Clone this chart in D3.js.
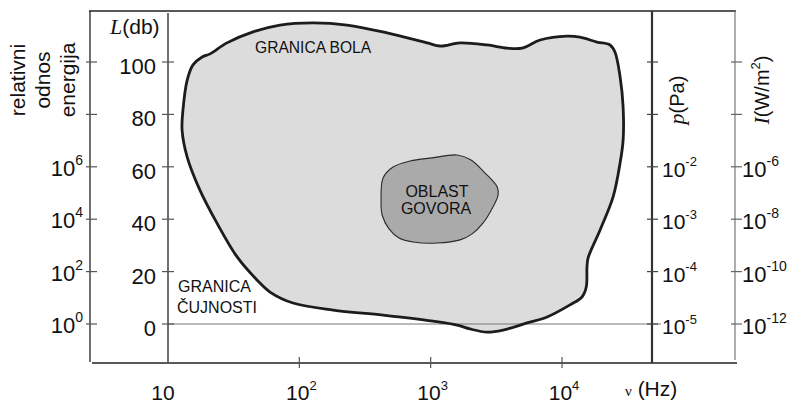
<!DOCTYPE html>
<html>
<head>
<meta charset="utf-8">
<script src="https://cdn.jsdelivr.net/npm/d3@7"></script>
<style>
body{margin:0;background:#fff}
svg{display:block;font-family:"Liberation Sans",Arial,sans-serif}
</style>
</head>
<body>
<svg width="792" height="403"></svg>
<script>
// granica cujnosti / granica bola (frekvencija Hz, nivo dB)
const boundaryFreq = [12.8, 13, 14, 15.5, 18.2, 20.9, 28.1, 44.4, 71.3, 127, 231, 466, 940, 1180, 1675, 2690, 3820, 4970, 6810, 10900, 13700, 18500, 23200, 25300, 27700, 29200, 29200, 27700, 24500, 19500, 15800, 15500, 15300, 14200, 11500, 7710, 5420, 3560, 2690, 1995, 1590, 1040, 434, 181, 89.6, 59.8, 47.6, 33.6, 23.6, 17.5, 14.0];
const boundaryLevel = [74, 81.7, 93.1, 98.9, 101.9, 103.1, 107.3, 111.5, 114.1, 114.9, 114.1, 111.1, 107.3, 106.1, 107.3, 106.5, 105.3, 105.3, 108.4, 109.9, 109.5, 107.6, 106.5, 103.8, 94.3, 82.8, 70.2, 61.5, 48.5, 35.9, 25.2, 21.8, 14.1, 10.3, 7.3, 2.7, 0.4, -2.3, -3.1, -1.9, -0.4, 1.1, 3.4, 5.3, 8.0, 12.2, 16.8, 25.6, 38.5, 51.1, 63.7];

// oblast govora
const speechFreq = [419, 434, 517, 697, 1026, 1590, 2030, 2550, 3210, 3260, 2980, 2500, 2070, 1675, 1120, 735, 574, 482, 427];
const speechLevel = [47.3, 55.7, 59.9, 62.2, 63.4, 64.5, 62.6, 58.0, 52.3, 49.2, 44.7, 38.5, 34.4, 32.1, 30.9, 31.3, 32.8, 36.3, 41.6];

// ose
const freqTicks = [10, 100, 1000, 10000];
const levelTicks = [0, 20, 40, 60, 80, 100];
const energyExp = [0, 2, 4, 6, 8, 10];       // oznaceni samo do 6
const energyLabeled = [0, 2, 4, 6];
const pressureExp = [-5, -4, -3, -2, -1, 0]; // oznaceni do -2
const pressureLabeled = [-5, -4, -3, -2];
const intensityExp = [-12, -10, -8, -6, -4, -2];
const intensityLabeled = [-12, -10, -8, -6];

const svg = d3.select("svg");

const x = d3.scaleLog().domain([10, 10000]).range([168, 562]);
const y = d3.scaleLinear().domain([0, 100]).range([324, 62]);
const yE = d3.scaleLinear().domain([0, 10]).range([324, 62]);
const yP = d3.scaleLinear().domain([-5, 0]).range([324, 62]);
const yI = d3.scaleLinear().domain([-12, -2]).range([324, 62]);

const yTop = 11, yBottom = 363;
const xOuter = 90, xL = 168, xP = 652, xI = 735;

// glavna oblast
let boundary = boundaryFreq.map((f, i) => [f, boundaryLevel[i]]);
let speech = speechFreq.map((f, i) => [f, speechLevel[i]]);
let area = d3.line().x(d => x(d[0])).y(d => y(d[1])).curve(d3.curveCatmullRomClosed.alpha(0.5));

svg.append("path")
  .attr("d", area(boundary))
  .attr("fill", "#dcdcdc")
  .attr("stroke", "none");

// linija 0 dB
svg.append("line")
  .attr("x1", xL).attr("x2", 661)
  .attr("y1", y(0)).attr("y2", y(0))
  .attr("stroke", "#777").attr("stroke-width", 1);

svg.append("path")
  .attr("d", area(boundary))
  .attr("fill", "none")
  .attr("stroke", "#1c1c1c")
  .attr("stroke-width", 2.8);

svg.append("path")
  .attr("d", area(speech))
  .attr("fill", "#aaaaaa")
  .attr("stroke", "#2a2a2a")
  .attr("stroke-width", 1.1);

// okvir
function lineAppend(x1, y1, x2, y2, color, w) {
  svg.append("line")
    .attr("x1", x1).attr("y1", y1)
    .attr("x2", x2).attr("y2", y2)
    .attr("stroke", color)
    .attr("stroke-width", w);
}
lineAppend(89, yTop, 736, yTop, "#222", 1.3);
lineAppend(xOuter, yTop, xOuter, yBottom - 1, "#222", 1.3);
lineAppend(92, yBottom, 737, yBottom, "#222", 1.3);
lineAppend(xL, 13, xL, yBottom - 1, "#222", 1.3);
lineAppend(xP, yTop, xP, yBottom, "#333", 2.2);
lineAppend(xI, yTop, xI, yBottom - 3, "#777", 1.2);

// tickovi
levelTicks.forEach(v => lineAppend(xL - 6, y(v), xL + 6, y(v), "#555", 1.2));
energyExp.forEach(v => lineAppend(xOuter - 4, yE(v), xOuter + 7, yE(v), "#555", 1.2));
pressureExp.forEach(v => lineAppend(xP - 5, yP(v), xP + 6, yP(v), "#444", 1.2));
intensityExp.forEach(v => lineAppend(xI - 4, yI(v), xI + 7, yI(v), "#666", 1.2));
freqTicks.slice(1).forEach(v => lineAppend(x(v), yBottom - 6, x(v), yBottom + 5, "#555", 1.2));

// tekst sa eksponentom
function powText(g, px, py, base, exp, size, anchor) {
  let t = g.append("text")
    .attr("x", px).attr("y", py)
    .attr("text-anchor", anchor)
    .style("font-size", size + "px")
    .attr("fill", "#111");
  t.append("tspan").text(base);
  t.append("tspan")
    .attr("dy", -size * 0.5)
    .style("font-size", Math.round(size * 0.62) + "px")
    .text(exp);
  return t;
}

let g = svg.append("g");

levelTicks.forEach(v => {
  g.append("text")
    .attr("x", 156).attr("y", y(v) + 12)
    .attr("text-anchor", "end")
    .style("font-size", "22px")
    .attr("fill", "#111")
    .text(v);
});

energyLabeled.forEach(v => powText(g, 83, yE(v) + 9, "10", v, 22, "end"));
pressureLabeled.forEach(v => powText(g, 662, yP(v) + 10, "10", v, 21, "start"));
intensityLabeled.forEach(v => powText(g, 742, yI(v) + 10, "10", v, 22, "start"));

freqTicks.forEach((v, i) => {
  if (i == 0) {
    g.append("text")
      .attr("x", x(v) - 5).attr("y", 400)
      .attr("text-anchor", "middle")
      .style("font-size", "21px")
      .attr("fill", "#111")
      .text("10");
  } else {
    powText(g, x(v) + 2, 400, "10", Math.log10(v), 21, "middle");
  }
});

// nazivi osa
let lt = g.append("text").attr("x", 110).attr("y", 34).style("font-size", "21px").attr("fill", "#111");
lt.append("tspan").style("font-family", "'Liberation Serif','Times New Roman',serif").style("font-style", "italic").style("font-size", "22px").text("L");
lt.append("tspan").text("(db)");

["relativni", "odnos", "energija"].forEach((s, i) => {
  g.append("text")
    .attr("transform", `translate(${25 + i * 25},80) rotate(-90)`)
    .attr("text-anchor", "middle")
    .style("font-size", "21px")
    .attr("fill", "#111")
    .text(s);
});

let pt = g.append("text")
  .attr("transform", "translate(684,100) rotate(-90)")
  .attr("text-anchor", "middle")
  .style("font-size", "20px")
  .attr("fill", "#111");
pt.append("tspan").style("font-family", "'Liberation Serif','Times New Roman',serif").style("font-style", "italic").style("font-size", "22px").text("p");
pt.append("tspan").text("(Pa)");

let it = g.append("text")
  .attr("transform", "translate(769,90) rotate(-90)")
  .attr("text-anchor", "middle")
  .style("font-size", "20px")
  .attr("fill", "#111");
it.append("tspan").style("font-family", "'Liberation Serif','Times New Roman',serif").style("font-style", "italic").style("font-size", "22px").text("I");
it.append("tspan").text("(W/m");
it.append("tspan").attr("dy", -9).style("font-size", "13px").text("2");
it.append("tspan").attr("dy", 9).text(")");

let nt = g.append("text").attr("x", 625).attr("y", 396).attr("fill", "#111");
nt.append("tspan").style("font-family", "'Liberation Serif','Times New Roman',serif").style("font-size", "15px").text("ν");
nt.append("tspan").style("font-size", "21px").text(" (Hz)");

// natpisi oblasti
g.append("text").attr("x", 255).attr("y", 53).style("font-size", "15.6px").attr("fill", "#111").text("GRANICA BOLA");
g.append("text").attr("x", 178).attr("y", 292).style("font-size", "16px").attr("fill", "#111").text("GRANICA");
g.append("text").attr("x", 177).attr("y", 313).style("font-size", "16px").attr("fill", "#111").text("ČUJNOSTI");
g.append("text").attr("x", 437).attr("y", 197).attr("text-anchor", "middle").style("font-size", "16px").attr("fill", "#111").text("OBLAST");
g.append("text").attr("x", 436).attr("y", 214).attr("text-anchor", "middle").style("font-size", "16px").attr("fill", "#111").text("GOVORA");
</script>
</body>
</html>
